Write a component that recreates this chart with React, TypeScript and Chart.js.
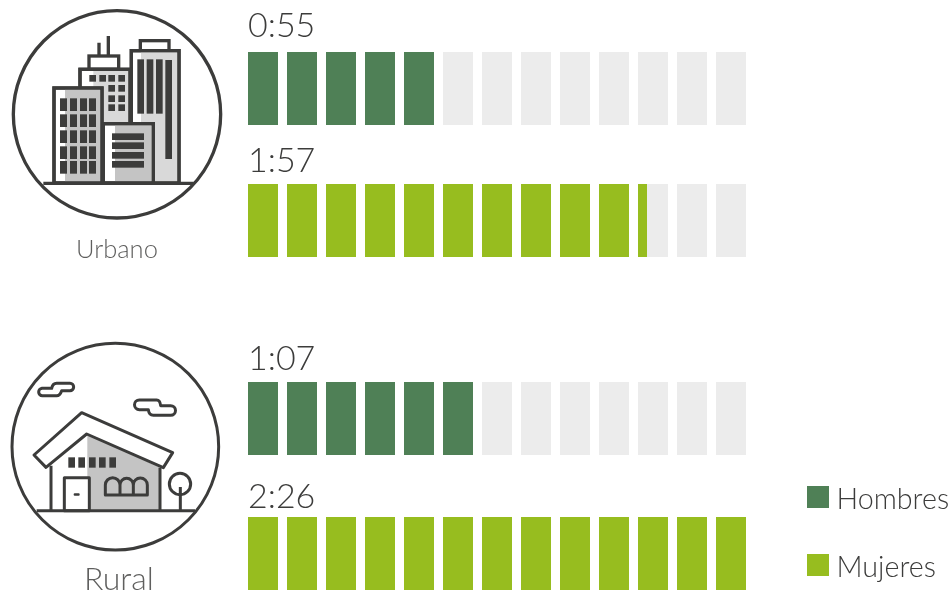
import React, { useEffect, useRef } from "react";
import { Chart, registerables } from "chart.js";

Chart.register(...registerables);

// ---- data ----
const categories = ["Hombres", "Mujeres"];
const urbanLabels = ["0:55", "1:57"];
const urbanCells = [5, 10.3];
const ruralLabels = ["1:07", "2:26"];
const ruralCells = [6, 13];
const totalCells = 13;

// ---- styles ----
const HOMBRES = "#4f8056";
const MUJERES = "#97bd1f";
const TRACK = "#ececec";
const INK = "#3c3c3b";
const CELL_SHARE = 30 / 39;
const FONT = "Lato, 'Open Sans', sans-serif";

function makeChart(
  canvas: HTMLCanvasElement,
  cells: number[],
  labels: string[],
  labelGaps: number[],
  padTop: number,
  padBottom: number
) {
  const indices = Array.from({ length: totalCells }, (_, i) => i);
  const tracks = indices.map((i) => ({
    label: "track" + i,
    data: categories.map(() => [i, i + CELL_SHARE]),
    backgroundColor: TRACK,
    grouped: false,
    order: 2,
    barThickness: 73,
    borderWidth: 0,
    inflateAmount: 0,
  }));
  const fills = indices.map((i) => ({
    label: "fill" + i,
    data: cells.map((c) => {
      const f = Math.max(0, Math.min(1, c - i));
      return f > 0 ? [i, i + f * CELL_SHARE] : null;
    }),
    backgroundColor: [HOMBRES, MUJERES],
    grouped: false,
    order: 1,
    barThickness: 73,
    borderWidth: 0,
    inflateAmount: 0,
  }));
  const valueLabels = {
    id: "valueLabels",
    afterDatasetsDraw(chart: any) {
      const { ctx, scales } = chart;
      ctx.save();
      ctx.font = `300 34px ${FONT}`;
      ctx.fillStyle = INK;
      ctx.textBaseline = "alphabetic";
      ctx.textAlign = "left";
      labels.forEach((text, r) => {
        const y = scales.y.getPixelForValue(r) - 36.5 - labelGaps[r];
        ctx.fillText(text, scales.x.getPixelForValue(0), y);
      });
      ctx.restore();
    },
  };
  return new Chart(canvas, {
    type: "bar",
    data: { labels: categories, datasets: [...tracks, ...fills] as any },
    plugins: [valueLabels],
    options: {
      animation: false,
      responsive: false,
      indexAxis: "y",
      layout: { padding: { left: 248, right: 197, top: padTop, bottom: padBottom } },
      plugins: { legend: { display: false }, tooltip: { enabled: false } },
      scales: {
        x: { type: "linear", min: 0, max: totalCells, display: false },
        y: { type: "category", display: false },
      },
    } as any,
  });
}

const UrbanIcon = () => (
  <svg width={240} height={270} viewBox="0 0 720 810" style={{ position: "absolute", left: 0, top: 0 }}>
    <g stroke={INK} strokeWidth={10} fill="none">
      <circle cx={351} cy={343} r={311} />
      {/* right tower */}
      <rect x={421} y={122} width={86} height={30} fill="#fff" />
      <rect x={394} y={152} width={143} height={397} fill="#fff" />
      <rect x={423} y={157} width={109} height={387} fill="#d9d9d9" stroke="none" />
      <rect x={394} y={152} width={143} height={397} />
      {/* middle tower */}
      <path d="M297 168V128M325 168V108" />
      <rect x={267} y={168} width={89} height={40} fill="#fff" />
      <rect x={240} y={208} width={150} height={170} fill="#fff" />
      <rect x={280} y={213} width={105} height={165} fill="#d9d9d9" stroke="none" />
      <rect x={240} y={208} width={150} height={170} />
      {/* left building */}
      <rect x={162} y={264} width={144} height={285} fill="#fff" />
      <rect x={195} y={269} width={106} height={276} fill="#c4c4c4" stroke="none" />
      <rect x={162} y={264} width={144} height={285} />
      {/* front building */}
      <rect x={310} y={371} width={150} height={178} fill="#fff" />
      <rect x={345} y={376} width={110} height={168} fill="#c4c4c4" stroke="none" />
      <rect x={310} y={371} width={150} height={178} />
      <path d="M130 550H580" />
    </g>
    <g fill={INK}>
      {[180, 210, 240, 267].flatMap((x) =>
        [295, 343, 391, 439, 483].map((y) => <rect key={`a${x}${y}`} x={x} y={y} width={21} height={38} />)
      )}
      {[268, 298, 325, 355].map((x) => <rect key={`b${x}`} x={x} y={225} width={20} height={20} />)}
      {[325, 355].flatMap((x) => [255, 286, 313].map((y) => <rect key={`c${x}${y}`} x={x} y={y} width={20} height={20} />))}
      {[412, 440, 468].map((x) => <rect key={`d${x}`} x={x} y={178} width={20} height={163} />)}
      <rect x={496} y={180} width={20} height={297} />
      {[400, 427, 456, 483].map((y) => <rect key={`e${y}`} x={336} y={y} width={96} height={20} />)}
    </g>
  </svg>
);

const RuralIcon = () => (
  <svg width={240} height={258} viewBox="0 0 720 774" style={{ position: "absolute", left: 0, top: 335 }}>
    <g stroke={INK} strokeWidth={9} fill="none" strokeLinejoin="round">
      <circle cx={346} cy={335} r={310} />
      <path d="M125 160H155Q158 145 170 145H210a11 11 0 0 1 0 22H185Q180 182 170 182H127a11 11 0 0 1 0-22Z" />
      <path d="M418 195H470Q480 195 482 212H512a13 13 0 0 1 0 29H460Q447 241 445 224H418a14 14 0 0 1 0-29Z" />
      <path d="M262 297L480 398V527H262Z" fill="#c4c4c4" stroke="none" />
      <path d="M153 527V392M480 527V398" />
      <path d="M102 360L245 233L518 353L490 398L260 297L138 397Z" fill="#fff" />
      <rect x={193} y={428} width={75} height={99} fill="#fff" />
      <path d="M316 480V450a22 22 0 0 1 44 0a20 20 0 0 1 40 0a20 20 0 0 1 42 0V480Z M360 450V480M400 450V480" />
      <circle cx={540} cy={447} r={32} />
      <path d="M541 456V527M110 527H585" />
    </g>
    <g fill={INK}>
      {[205, 235, 267, 297, 328].map((x) => <rect key={x} x={x} y={367} width={20} height={31} />)}
      <rect x={221} y={475} width={18} height={7} rx={3} />
    </g>
  </svg>
);

const captionStyle: React.CSSProperties = {
  position: "absolute",
  fontFamily: FONT,
  fontWeight: 300,
  color: "#5f5f5e",
  lineHeight: 1,
  whiteSpace: "nowrap",
};

export default function App() {
  const urbanRef = useRef<HTMLCanvasElement>(null);
  const ruralRef = useRef<HTMLCanvasElement>(null);

  useEffect(() => {
    const a = makeChart(urbanRef.current!, urbanCells, urbanLabels, [15, 12], 22.5, 13.5);
    const b = makeChart(ruralRef.current!, ruralCells, ruralLabels, [12, 9], 51, 9);
    return () => {
      a.destroy();
      b.destroy();
    };
  }, []);

  return (
    <div style={{ position: "fixed", left: 0, top: 0, width: 952, height: 593, overflow: "hidden", background: "#fff" }}>
      <canvas ref={urbanRef} width={952} height={300} style={{ position: "absolute", left: 0, top: 0 }} />
      <canvas ref={ruralRef} width={952} height={330} style={{ position: "absolute", left: 0, top: 300 }} />
      <UrbanIcon />
      <RuralIcon />
      <div style={{ ...captionStyle, left: 76, top: 236, fontSize: 25.5 }}>Urbano</div>
      <div style={{ ...captionStyle, left: 84, top: 562, fontSize: 32 }}>Rural</div>
      <div style={{ position: "absolute", left: 807, top: 486, width: 22, height: 22, background: HOMBRES }} />
      <div style={{ position: "absolute", left: 807, top: 554, width: 22, height: 22, background: MUJERES }} />
      <div style={{ ...captionStyle, left: 836.5, top: 484, fontSize: 28.7, color: INK }}>{categories[0]}</div>
      <div style={{ ...captionStyle, left: 836.5, top: 552, fontSize: 28.7, color: INK }}>{categories[1]}</div>
    </div>
  );
}
